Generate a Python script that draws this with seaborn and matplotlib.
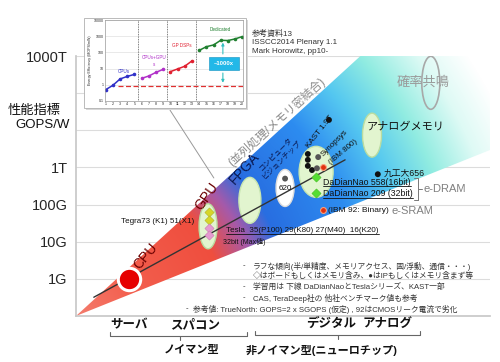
import matplotlib
matplotlib.use("Agg")
import matplotlib.pyplot as plt
import matplotlib.patches as mpatches
from matplotlib.lines import Line2D
import numpy as np
import pandas as pd
import seaborn as sns

# ---- main chart (GOPS/W, log scale) ----
ytick_values = [1e9, 1e10, 1e11, 1e12, 1e13, 1e14, 1e15]
ytick_labels = ["1G", "10G", "100G", "1T", "", "", "1000T"]

cpu_point = (12.8, 1.0e9)
trend_x = [4.3, 65.0]
trend_y = [3.2e8, 1.6e12]
callout_x = [22.7, 33.3]
callout_y = [3.5e13, 5.2e11]

# ellipses: name, x, y, width px, height px
ellipse_names = ["GPU", "FPGA", "620", "KAST", "analog", "stochastic"]
ellipse_x = [31.9, 42.0, 50.5, 58.0, 71.5, 85.7]
ellipse_y = [2.6e10, 1.3e11, 2.8e11, 7.6e11, 7.4e12, 1.9e14]
ellipse_w = [18, 22, 18, 34, 19, 18]
ellipse_h = [45, 46, 37, 51, 44, 53]

tegra_x = [32.1, 32.1]
tegra_y = [6.3e10, 3.8e10]
tesla_x = [32.1, 32.1]
tesla_y = [2.4e10, 1.5e10]
dadiannao_x = [58.0, 58.0]
dadiannao_y = [558e9, 209e9]
black_x = [56.0, 56.0, 56.0, 57.0, 72.9, 61.1]
black_y = [2.3e12, 1.6e12, 1.1e12, 8.5e11, 656e9, 1.9e13]
gray_x = [58.5, 58.2, 50.5]
gray_y = [1.9e12, 9.5e11, 5.0e11]
ibm_x = [59.7, 59.7]
ibm_y = [1.0e12, 7.0e10]

# ---- inset (ISSCC2014, energy efficiency MOPS/mW) ----
cpus_x = [1, 2, 3, 4, 5]
cpus_y = [0.5, 0.93, 2.3, 3.3, 4.4]
cpugpu_x = [6, 7, 8, 9]
cpugpu_y = [2.5, 3.5, 5.9, 9.0]
dsp_x = [10, 11, 12, 13]
dsp_y = [6.5, 9.5, 14, 30]
ded_x = [14, 15, 16, 17, 18, 19, 20]
ded_y = [133, 225, 288, 560, 540, 680, 950]
dashed_level = 0.87
separators = [5.5, 9.5, 13.5]
inset_yticks = [0.1, 1, 10, 100, 1000, 10000]

notes = [
    ("-", "ラフな傾向(半/単精度、メモリアクセス、固/浮動、通信・・・)"),
    ("", "◇はボードもしくはメモリ含み、●はIPもしくはメモリ含まず等"),
    ("-", "学習用は 下線 DaDianNaoとTeslaシリーズ、KAST一部"),
    ("-", "CAS, TeraDeep社の 他社ベンチマーク値も参考"),
    ("-", "参考値: TrueNorth: GOPS=2 x SGOPS (仮定) , 92はCMOSリーク電流で劣化"),
]

sns.set_theme(style="white")
plt.rcParams["font.family"] = ["Liberation Sans", "Noto Sans CJK JP"]

W, H = 500, 362
fig = plt.figure(figsize=(5, 3.62), dpi=100)


def px(x, y):
    return x / W, 1 - y / H


def ftext(x, y, s, **kw):
    kw.setdefault("ha", "left")
    kw.setdefault("va", "center")
    return fig.text(x / W, 1 - y / H, s, **kw)


AX_L, AX_B, AX_W, AX_H = 76, 316, 414, 260
ax = fig.add_axes([AX_L / W, 1 - AX_B / H, AX_W / W, AX_H / H])
ax.set_xlim(0, 100)
ax.set_yscale("log")
ax.set_ylim(1e8, 1e15)
ax.set_yticks(ytick_values)
ax.set_yticklabels(ytick_labels, fontsize=10.5)
ax.minorticks_off()
ax.set_xticks([])
ax.tick_params(axis="y", length=0, pad=6)
ax.grid(axis="y", color="#dcdcdc", linewidth=0.8)
for side in ["top", "right"]:
    ax.spines[side].set_visible(False)
ax.spines["left"].set_color("#c8c8c8")
ax.spines["bottom"].set_color("#c8c8c8")
ax.set_axisbelow(True)

# fan gradient (radial from origin)
fan_top = 266
yy, xx = np.mgrid[0:fan_top, 0:AX_W] + 0.5
r = np.hypot(xx, yy)
stops = [0, 60, 150, 185, 215, 290, 340, 385, 430, 470]
cols = np.array([
    (244, 125, 110), (243, 95, 78), (239, 78, 62), (165, 90, 170), (40, 110, 225),
    (45, 140, 240), (85, 200, 240), (145, 236, 225), (222, 250, 245), (255, 255, 255),
]) / 255
rgb = np.stack([np.interp(r, stops, cols[:, i]) for i in range(3)], -1)
im = ax.imshow(rgb, origin="lower", extent=(0, 1, 0, fan_top / AX_H),
               transform=ax.transAxes, aspect="auto", zorder=1, interpolation="bilinear")
fan = mpatches.Polygon([(0, 0), (291 / AX_W, fan_top / AX_H), (1, fan_top / AX_H), (1, 166 / AX_H)],
                       closed=True, transform=ax.transAxes)
im.set_clip_path(fan)

# callout line and trend line
ax.plot(callout_x, callout_y, color="#999999", lw=0.7, zorder=2)


def to_axes(x, y):
    return ax.transAxes.inverted().transform(ax.transData.transform((x, y)))


faces = ["#e2f5cf", "#e2f5cf", "#ffffff", "#e2f5cf", "#e2f5cf", "none"]
edges = ["#b9dca0", "#c8e6b0", "#dddddd", "#c8e6b0", "#b9dca0", "#a8a8a8"]
for name, x, y, w, h, fc, ec in zip(ellipse_names, ellipse_x, ellipse_y, ellipse_w, ellipse_h, faces, edges):
    cx, cy = to_axes(x, y)
    ax.add_patch(mpatches.Ellipse((cx, cy), w / AX_W, h / AX_H, transform=ax.transAxes,
                                  facecolor=fc, edgecolor=ec, lw=1.0 if fc != "none" else 1.2, zorder=3))

ax.plot(trend_x, trend_y, color="#333333", lw=1.0, zorder=4)

sns.scatterplot(x=[cpu_point[0]], y=[cpu_point[1]], s=260, color="#e60000", edgecolor="white",
                linewidth=2.2, ax=ax, zorder=5, legend=False)
sns.scatterplot(x=tegra_x, y=tegra_y, marker="D", s=22, color="#d6d629", edgecolor="#b0b020", ax=ax, zorder=5)
sns.scatterplot(x=tesla_x, y=tesla_y, marker="D", s=22, color="#e59ad0", edgecolor="#c878b0", ax=ax, zorder=5)
sns.scatterplot(x=dadiannao_x, y=dadiannao_y, marker="D", s=22, color="#55dd33", edgecolor="#44bb22", ax=ax, zorder=5)
sns.scatterplot(x=black_x, y=black_y, s=18, color="#111111", edgecolor="none", ax=ax, zorder=5)
sns.scatterplot(x=gray_x, y=gray_y, s=18, color="#555555", edgecolor="none", ax=ax, zorder=5)
sns.scatterplot(x=ibm_x, y=ibm_y, s=18, color="#e03010", edgecolor="#f6a080", linewidth=0.8, ax=ax, zorder=5)

# ---- labels on the fan ----
ftext(146, 256, "CPU", rotation=50, rotation_mode="anchor", ha="center", fontsize=10, color="#6a0000")
ftext(207, 196, "GPU", rotation=55, rotation_mode="anchor", ha="center", fontsize=10, color="#6a0000")
ftext(245, 168, "FPGA", rotation=48, rotation_mode="anchor", ha="center", fontsize=10, color="#0a1850")
ftext(277, 122, "(並列処理/メモリ密結合)", rotation=42, rotation_mode="anchor", ha="center",
      fontsize=8.3, color="#8a8a8a")
ftext(279, 157, "コンピュータ\nビジョンチップ", rotation=45, rotation_mode="anchor", ha="center",
      fontsize=5.3, color="#0a1850", linespacing=1.1)
ftext(320, 132, "KAST 1.9T", rotation=52, rotation_mode="anchor", ha="center", fontsize=5.8, color="#111111")
ftext(334, 143, "Synopsys", rotation=45, rotation_mode="anchor", ha="center", fontsize=5.8, color="#111111")
ftext(343, 152, "(IBM 800)", rotation=40, rotation_mode="anchor", ha="center", fontsize=5.8, color="#111111")
ftext(285, 188, "620", ha="center", fontsize=5.8, color="#111111")
ftext(367, 127, "アナログメモリ", fontsize=8, color="#111111")
ftext(423, 82, "確率共鳴", ha="center", fontsize=9.5, color="#9a9a9a")

ftext(384, 173, "九工大656", fontsize=6.3, color="#111111")
t_dd1 = ftext(323, 182, "DaDianNao 558(16bit)", fontsize=6.3, color="#111111")
t_dd2 = ftext(323, 194, "DaDianNao 209 (32bit)", fontsize=6.3, color="#111111")
ftext(424, 189, "e-DRAM", fontsize=8, color="#808080")
ftext(328, 211, "(IBM 92: Binary)", fontsize=6.0, color="#111111")
ftext(391, 211, "e-SRAM", fontsize=8, color="#808080")
ftext(121, 221, "Tegra73 (K1) 51(X1)", fontsize=5.8, color="#111111")
t_tesla = ftext(226, 231, "Tesla  35(P100) 29(K80) 27(M40)  16(K20)", fontsize=5.8, color="#111111")
ftext(223, 242, "32bit (Max値)", fontsize=5.0, color="#111111")

# e-DRAM bracket
for seg in [((414, 178), (418, 178)), ((418, 178), (418, 200)), ((414, 200), (418, 200)), ((418, 189), (422, 189))]:
    fig.add_artist(Line2D([seg[0][0] / W, seg[1][0] / W], [1 - seg[0][1] / H, 1 - seg[1][1] / H],
                          transform=fig.transFigure, color="#777777", lw=0.7))

# notes
note_ys = [266, 276, 287, 298, 309]
for (dash, txt), y in zip(notes, note_ys):
    if y == note_ys[-1]:
        ftext(186, y, "-", fontsize=5.6, color="#333333")
        ftext(193, y, txt, fontsize=5.6, color="#333333")
    else:
        if dash:
            ftext(243, y, dash, fontsize=5.6, color="#333333")
        ftext(253, y, txt, fontsize=5.6, color="#333333")

# reference text
ftext(252, 30, "参考資料13\nISSCC2014 Plenary 1.1\nMark Horowitz, pp10-", fontsize=5.8,
      color="#333333", va="top", linespacing=1.25)

# ---- y label ----
ftext(8, 111, "性能指標", fontsize=9.5, color="#111111")
ftext(15, 125, "GOPS/W", fontsize=9.5, color="#111111")

# ---- bottom categories ----
ftext(129, 325, "サーバ", ha="center", fontsize=9, fontweight="bold", color="#111111")
ftext(195, 325, "スパコン", ha="center", fontsize=9, fontweight="bold", color="#111111")
ftext(192, 350, "ノイマン型", ha="center", fontsize=8, fontweight="bold", color="#111111")
ftext(331, 324, "デジタル", ha="center", fontsize=9, fontweight="bold", color="#111111")
ftext(388, 324, "アナログ", ha="center", fontsize=9, fontweight="bold", color="#111111")
ftext(322, 350, "非ノイマン型(ニューロチップ)", ha="center", fontsize=8, fontweight="bold", color="#111111")


def bracket(x0, x1, xm, y):
    pts = [(x0, y - 4), (x0, y), (x1, y), (x1, y - 4)]
    fig.add_artist(Line2D([p[0] / W for p in pts], [1 - p[1] / H for p in pts],
                          transform=fig.transFigure, color="#666666", lw=0.8))
    fig.add_artist(Line2D([xm / W, xm / W], [1 - y / H, 1 - (y + 4) / H],
                          transform=fig.transFigure, color="#666666", lw=0.8))


bracket(110, 247, 180, 336)
bracket(255, 420, 338, 335)

# ---- inset ----
shadow = mpatches.Rectangle(px(86, 110), 162 / W, 90 / H, transform=fig.transFigure,
                            facecolor="#d8d8d8", edgecolor="none", zorder=8)
frame = mpatches.Rectangle(px(84, 108), 162 / W, 90 / H, transform=fig.transFigure,
                           facecolor="white", edgecolor="#b0b0b0", lw=0.6, zorder=9)
fig.add_artist(shadow)
fig.add_artist(frame)
iax = fig.add_axes([105 / W, 1 - 101 / H, 138 / W, 81 / H], zorder=10)
iax.set_yscale("log")
iax.set_ylim(0.1, 10000)
iax.set_xlim(0.9, 20.1)
iax.set_yticks(inset_yticks)
iax.set_yticklabels([str(v) if v < 1 else str(int(v)) for v in inset_yticks], fontsize=2.6)
iax.set_xticks(range(1, 21))
iax.set_xticklabels([str(i) for i in range(1, 21)], fontsize=2.6)
iax.minorticks_off()
iax.tick_params(length=0, pad=1)
iax.grid(axis="y", color="#d8d8d8", lw=0.4)
for s in iax.spines.values():
    s.set_color("#999999")
    s.set_linewidth(0.5)
iax.set_ylabel("Energy Efficiency (MOPS/mW)", fontsize=2.6, labelpad=1)
for sx in separators:
    iax.axvline(sx, color="#555555", lw=0.6, ls=(0, (1, 1)))
for xs, ys, c in [(cpus_x, cpus_y, "#3030c8"), (cpugpu_x, cpugpu_y, "#b030c8"),
                  (dsp_x, dsp_y, "#e02030"), (ded_x, ded_y, "#208030")]:
    sns.lineplot(x=xs, y=ys, color=c, lw=1.1, marker="o", markersize=2.6, markeredgewidth=0, ax=iax)
iax.plot([2.7, 20.2], [dashed_level, dashed_level], color="#e03030", lw=0.9, ls=(0, (4, 2)))
iax.text(3.5, 6.8, "CPUs", color="#3030c8", fontsize=3.3, ha="center", va="center")
iax.text(7.7, 29, "CPUs+GPU\ns", color="#b030c8", fontsize=3.3, ha="center", va="center", linespacing=1.6)
iax.text(11.6, 275, "GP DSPs", color="#e02030", fontsize=3.3, ha="center", va="center")
iax.text(17.0, 2750, "Dedicated", color="#208030", fontsize=3.3, ha="center", va="center")
iax.add_patch(mpatches.Rectangle((15.3, 7.9), 4.2, 46, facecolor="#22b8e8", edgecolor="#1090c0", lw=0.4, zorder=5))
iax.text(17.4, 20, "~1000x", color="white", fontsize=4.2, fontweight="bold", ha="center", va="center", zorder=6)
iax.annotate("", xy=(17.3, 600), xytext=(17.3, 54),
             arrowprops=dict(arrowstyle="-|>", color="#33c0c0", lw=0.8, mutation_scale=4))
iax.annotate("", xy=(17.3, 0.9), xytext=(17.3, 7.9),
             arrowprops=dict(arrowstyle="-|>", color="#33c0c0", lw=0.8, mutation_scale=4))

# underlines
fig.canvas.draw()
renderer = fig.canvas.get_renderer()
for t in [t_dd1, t_dd2, t_tesla]:
    bb = t.get_window_extent(renderer)
    fig.add_artist(Line2D([bb.x0 / W, bb.x1 / W], [(bb.y0 + 0.5) / H, (bb.y0 + 0.5) / H],
                          transform=fig.transFigure, color="#111111", lw=0.6))

fig.savefig("out.png", dpi=100)
